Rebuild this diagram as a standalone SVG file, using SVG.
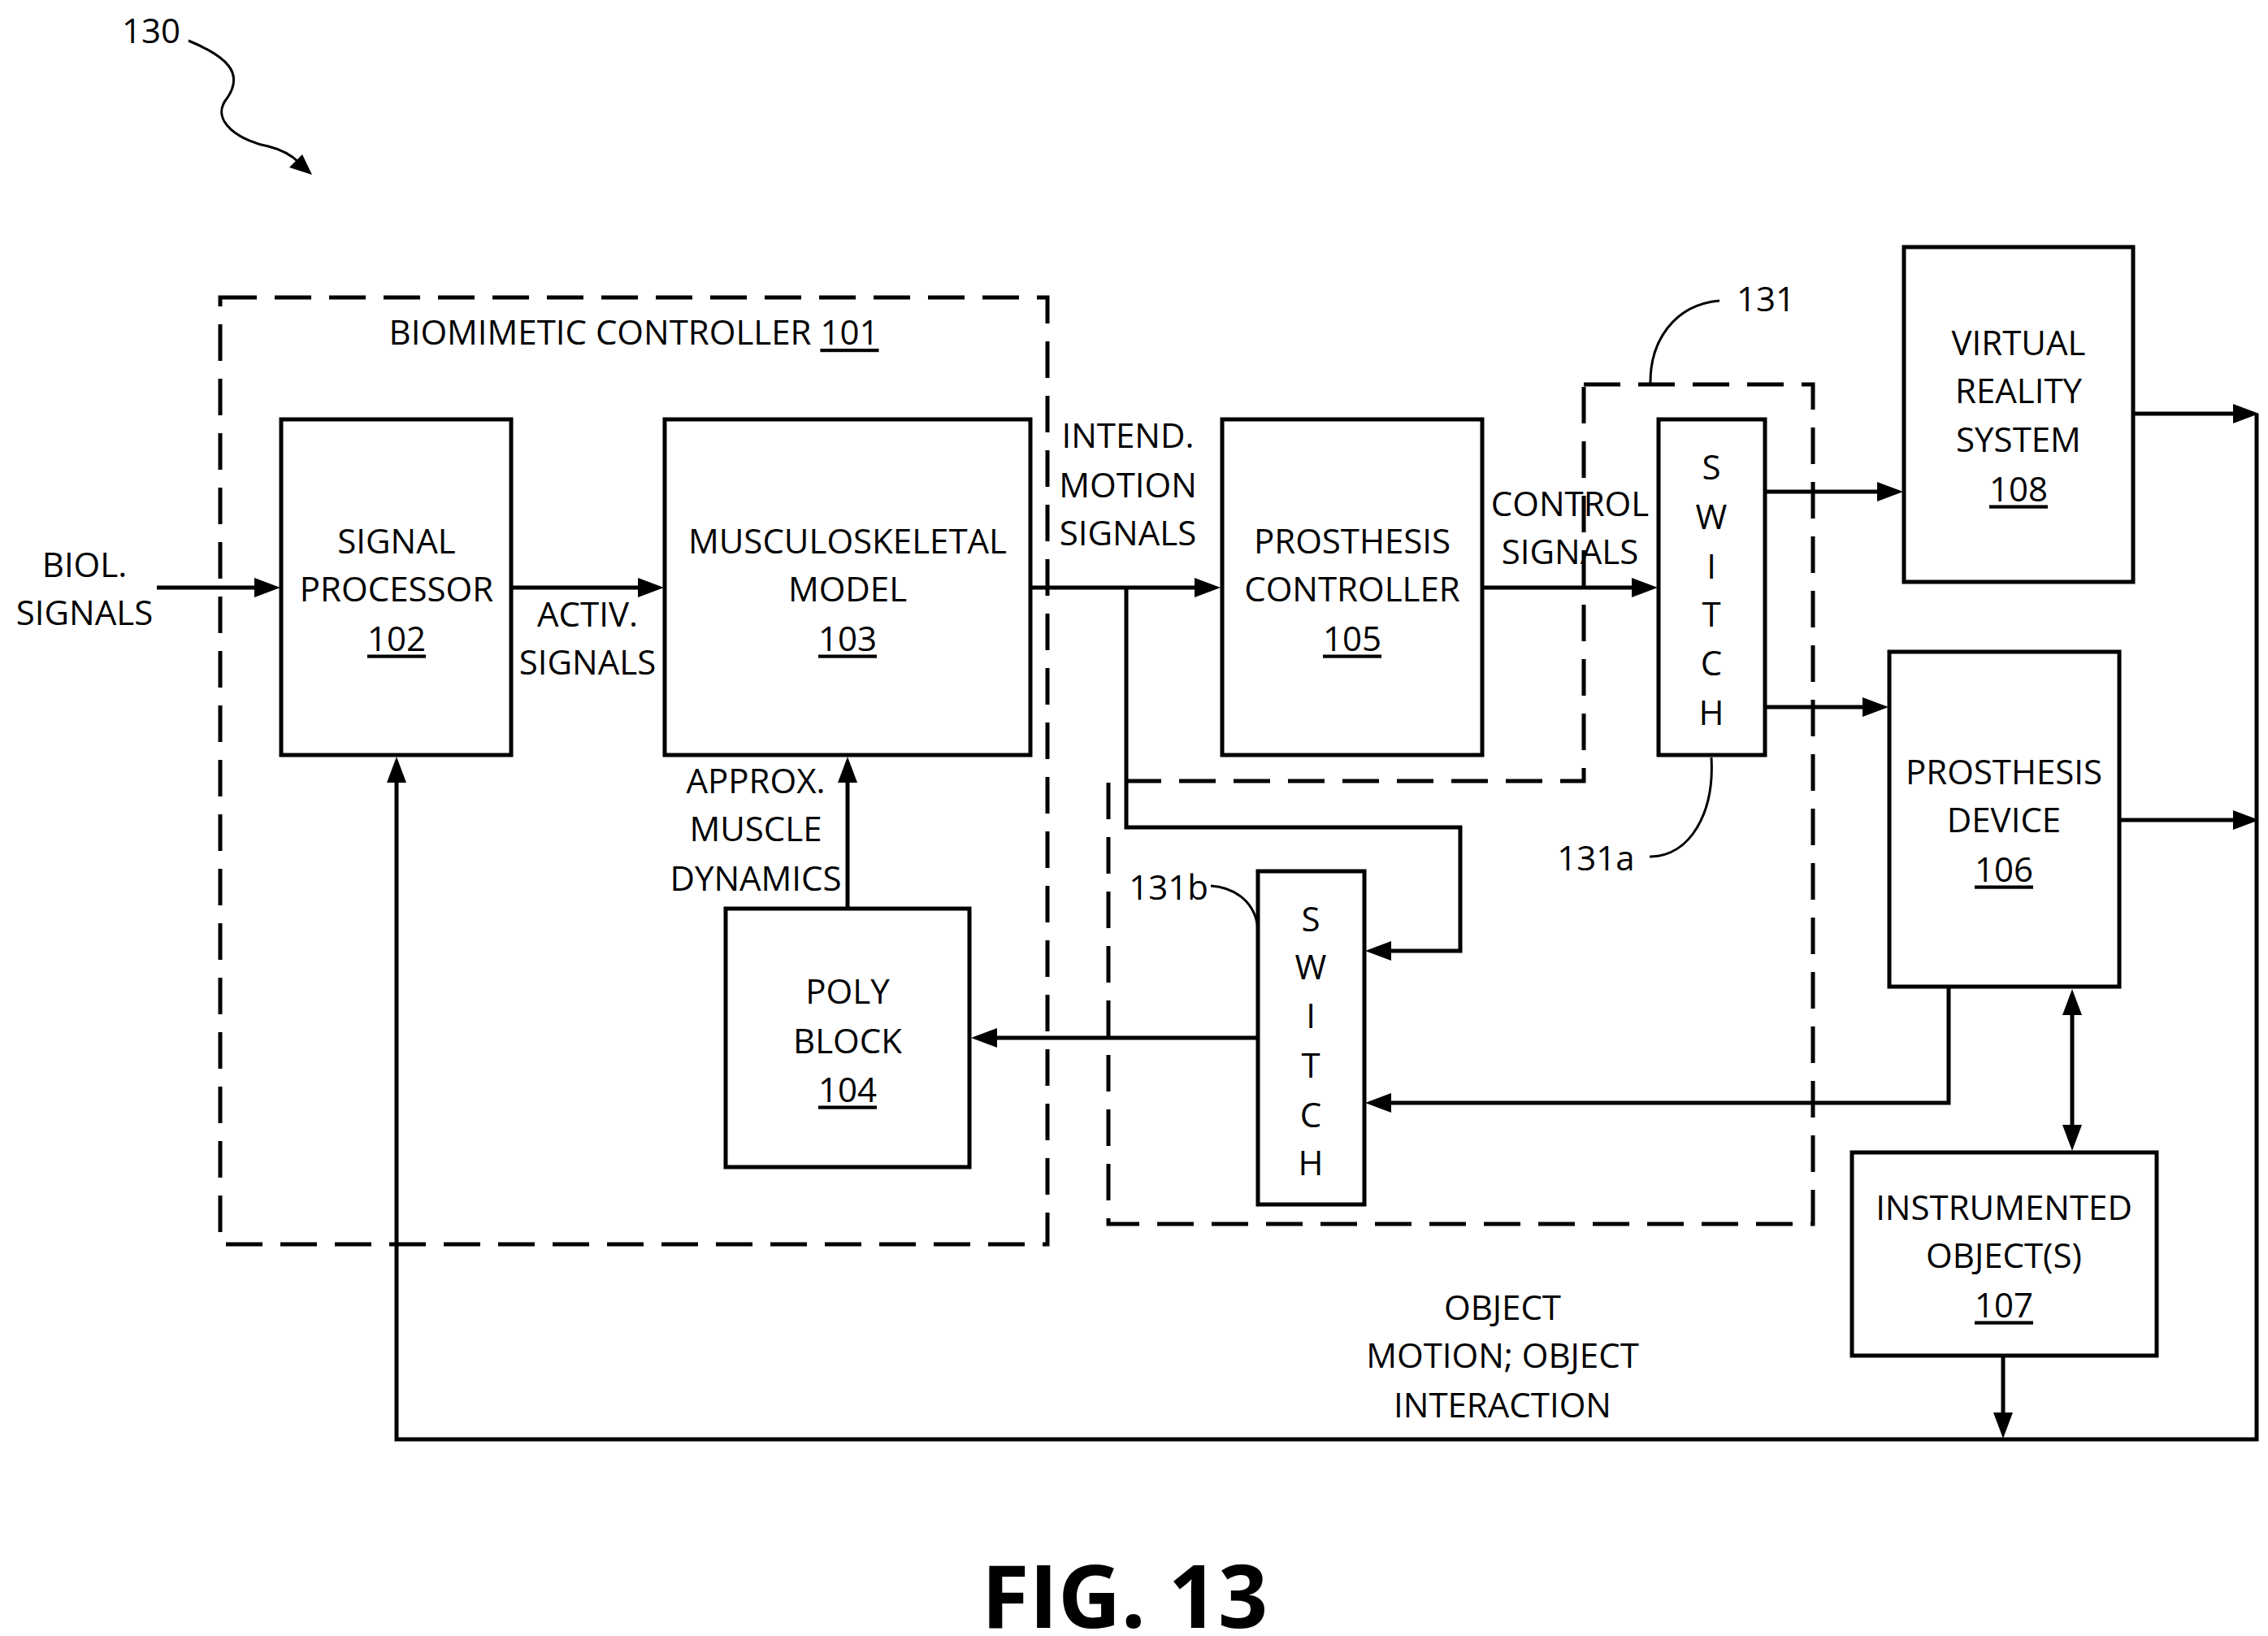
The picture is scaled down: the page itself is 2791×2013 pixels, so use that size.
<svg xmlns="http://www.w3.org/2000/svg" width="2791" height="2013" viewBox="0 0 2791 2013">
<style>
.b{fill:#fff;stroke:#000;stroke-width:5}
.d{fill:none;stroke:#000;stroke-width:5;stroke-dasharray:45 22}
.c{fill:none;stroke:#000;stroke-width:5}
.h{fill:#000;stroke:none}
.t{font-family:"Open Sans","Liberation Sans",sans-serif;font-size:42px;text-anchor:middle;dominant-baseline:central}
.u{text-decoration:underline}
</style>
<rect width="2791" height="2013" fill="#fff"/>
<g id="ref130"><text class="t" x="186" y="36">130</text>
<path class="c" d="M232,50 C280,70 300,90 280,120 C255,150 300,175 330,180 C350,185 360,192 368,200" style="stroke-width:3"/>
<polygon class="h" points="384,215 356,206 372,190"/></g>
<g id="bio101"><rect class="d" x="271" y="366" width="1018" height="1165"/>
<text class="t" x="780" y="407">BIOMIMETIC CONTROLLER <tspan class="u">101</tspan></text></g>
<g id="sw131"><path class="d" d="M1949,473H2231V1506H1364V961H1949Z"/>
<path class="c" style="stroke-width:3" d="M2031,473C2030,420 2060,375 2116,370"/>
<text class="t" x="2173" y="366">131</text></g>
<g id="n102"><rect class="b" x="346" y="516" width="283" height="413"/>
<text class="t" x="488" y="664">SIGNAL</text><text class="t" x="488" y="723">PROCESSOR</text><text class="t u" x="488" y="784">102</text></g>
<g id="n103"><rect class="b" x="818" y="516" width="450" height="413"/>
<text class="t" x="1043" y="664">MUSCULOSKELETAL</text><text class="t" x="1043" y="723">MODEL</text><text class="t u" x="1043" y="784">103</text></g>
<g id="n104"><rect class="b" x="893" y="1118" width="300" height="318"/>
<text class="t" x="1043" y="1218">POLY</text><text class="t" x="1043" y="1279">BLOCK</text><text class="t u" x="1043" y="1339">104</text></g>
<g id="n105"><rect class="b" x="1504" y="516" width="320" height="413"/>
<text class="t" x="1664" y="664">PROSTHESIS</text><text class="t" x="1664" y="723">CONTROLLER</text><text class="t u" x="1664" y="784">105</text></g>
<g id="n131a"><rect class="b" x="2041" y="516" width="131" height="413"/>
<text class="t" x="2106" y="573">S</text><text class="t" x="2106" y="634">W</text><text class="t" x="2106" y="695">I</text><text class="t" x="2106" y="754">T</text><text class="t" x="2106" y="814">C</text><text class="t" x="2106" y="875">H</text>
<path class="c" style="stroke-width:3" d="M2106,932C2110,1000 2080,1054 2030,1054"/>
<text class="t" x="1964" y="1054">131a</text></g>
<g id="n131b"><rect class="b" x="1548" y="1072" width="131" height="410"/>
<text class="t" x="1613" y="1129">S</text><text class="t" x="1613" y="1188">W</text><text class="t" x="1613" y="1248">I</text><text class="t" x="1613" y="1309">T</text><text class="t" x="1613" y="1370">C</text><text class="t" x="1613" y="1429">H</text>
<path class="c" style="stroke-width:3" d="M1490,1090C1520,1092 1545,1110 1548,1143"/>
<text class="t" x="1438" y="1090">131b</text></g>
<g id="n108"><rect class="b" x="2343" y="304" width="282" height="412"/>
<text class="t" x="2484" y="420">VIRTUAL</text><text class="t" x="2484" y="479">REALITY</text><text class="t" x="2484" y="539">SYSTEM</text><text class="t u" x="2484" y="600">108</text></g>
<g id="n106"><rect class="b" x="2325" y="802" width="283" height="412"/>
<text class="t" x="2466" y="948">PROSTHESIS</text><text class="t" x="2466" y="1007">DEVICE</text><text class="t u" x="2466" y="1068">106</text></g>
<g id="n107"><rect class="b" x="2279" y="1418" width="375" height="250"/>
<text class="t" x="2466" y="1484">INSTRUMENTED</text><text class="t" x="2466" y="1543">OBJECT(S)</text><text class="t u" x="2466" y="1604">107</text></g>
<g id="connectors">
<path class="c" d="M193,723H320"/><polygon class="h" points="345,723 313,711 313,735"/>
<path class="c" d="M629,723H795"/><polygon class="h" points="817,723 785,711 785,735"/>
<path class="c" d="M1268,723H1480"/><polygon class="h" points="1502,723 1470,711 1470,735"/>
<path class="c" d="M1824,723H2018"/><polygon class="h" points="2040,723 2008,711 2008,735"/>
<path class="c" d="M2172,605H2320"/><polygon class="h" points="2342,605 2310,593 2310,617"/>
<path class="c" d="M2172,870H2302"/><polygon class="h" points="2324,870 2292,858 2292,882"/>
<path class="c" d="M2625,509H2760"/><polygon class="h" points="2780,509 2748,497 2748,521"/>
<path class="c" d="M2608,1009H2760"/><polygon class="h" points="2780,1009 2748,997 2748,1021"/>
<path class="c" d="M1386,723V1018H1797V1170H1700"/><polygon class="h" points="1680,1170 1712,1158 1712,1182"/>
<path class="c" d="M1548,1277H1215"/><polygon class="h" points="1195,1277 1227,1265 1227,1289"/>
<path class="c" d="M2398,1214V1357H1700"/><polygon class="h" points="1680,1357 1712,1345 1712,1369"/>
<path class="c" d="M2550,1240V1394"/><polygon class="h" points="2550,1217 2538,1249 2562,1249"/><polygon class="h" points="2550,1416 2538,1384 2562,1384"/>
<path class="c" d="M1043,1118V950"/><polygon class="h" points="1043,931 1031,963 1055,963"/>
<path class="c" d="M2465,1668V1750"/><polygon class="h" points="2465,1770 2453,1738 2477,1738"/>
<path class="c" d="M2777,509V1771H488V950"/><polygon class="h" points="488,931 476,963 500,963"/>
</g>
<g id="labels">
<text class="t" x="104" y="693">BIOL.</text><text class="t" x="104" y="752">SIGNALS</text>
<text class="t" x="723" y="754">ACTIV.</text><text class="t" x="723" y="813">SIGNALS</text>
<text class="t" x="1388" y="534">INTEND.</text><text class="t" x="1388" y="595">MOTION</text><text class="t" x="1388" y="654">SIGNALS</text>
<text class="t" x="1932" y="618">CONTROL</text><text class="t" x="1932" y="677">SIGNALS</text>
<text class="t" x="930" y="959">APPROX.</text><text class="t" x="930" y="1018">MUSCLE</text><text class="t" x="930" y="1079">DYNAMICS</text>
<text class="t" x="1849" y="1607">OBJECT</text><text class="t" x="1849" y="1666">MOTION; OBJECT</text><text class="t" x="1849" y="1727">INTERACTION</text>
<text class="t" x="1384" y="1961" style="font-size:107px;font-weight:bold">FIG. 13</text>
</g>
</svg>
